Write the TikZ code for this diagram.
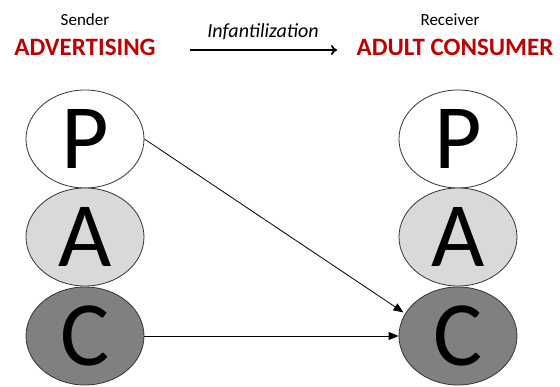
\documentclass[tikz,border=0pt]{standalone}
\usepackage{fontspec}
\setmainfont{Carlito}
\usetikzlibrary{arrows.meta,shapes.geometric}
\definecolor{advred}{HTML}{C00000}
\definecolor{adultgrey}{HTML}{D9D9D9}
\definecolor{childgrey}{HTML}{808080}
\begin{document}
\begin{tikzpicture}[x=1pt,y=-1pt,
  egostate/.style={draw=black!80,line width=0.8pt,ellipse,minimum width=118pt,minimum height=98pt,inner sep=0pt,
    text height=59pt,text depth=0pt,font=\fontsize{92}{92}\selectfont},
  role/.style={font=\fontsize{17}{19}\selectfont},
  party/.style={font=\bfseries\fontsize{25}{28}\selectfont,text=advred},
  link/.style={-{Triangle[length=10pt,width=8pt]},line width=0.8pt}]
  \useasboundingbox (0,0) rectangle (560,387);
  % header
  \node[role] (snd) at (85,20) {Sender};
  \node[party] (adv) at (85,47) {ADVERTISING};
  \node[role] (rcv) at (450,20) {Receiver};
  \node[party] (cons) at (455,47) {ADULT CONSUMER};
  \coordinate (hl) at (190,50);
  \coordinate (hr) at (337,50);
  \draw[-{To[length=6pt,width=10pt]},line width=1.8pt] (hl) -- (hr);
  \node[font=\itshape\fontsize{20}{22}\selectfont] (inf) at (263,32) {Infantilization};
  % sender ego states
  \node[egostate,fill=white] (P1) at (85,139) {P};
  \node[egostate,fill=adultgrey] (A1) at (85,237) {A};
  \node[egostate,fill=childgrey] (C1) at (85,336) {C};
  % receiver ego states
  \node[egostate,fill=white] (P2) at (458,139) {P};
  \node[egostate,fill=adultgrey] (A2) at (458,237) {A};
  \node[egostate,fill=childgrey] (C2) at (458,336) {C};
  % transactions
  \draw[link,shorten >=2pt] (P1.east) -- (C2.157);
  \draw[link] (C1.east) -- (C2.west);
\end{tikzpicture}
\end{document}
